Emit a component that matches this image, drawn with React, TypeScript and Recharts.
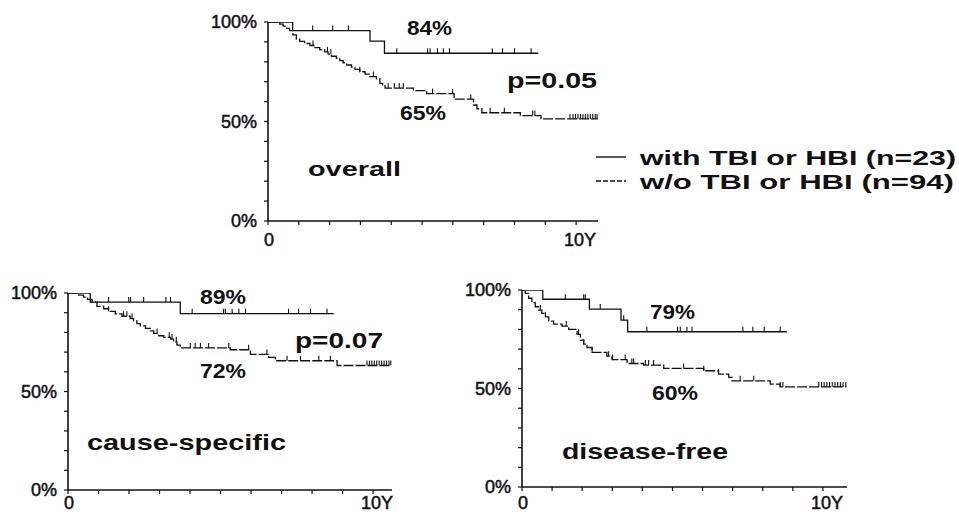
import React from "react";
import { ComposedChart, Line, Scatter, XAxis, YAxis, Legend } from "recharts";

const FONT = '"Liberation Sans", Arial, Helvetica, sans-serif';
const INK = "#111";

const seriesNames = ["with TBI or HBI (n=23)", "w/o TBI or HBI (n=94)"];

const yTicks = [0, 10, 20, 30, 40, 50, 60, 70, 80, 90, 100];
const yTickLabels: Record<number, string> = { 0: "0%", 50: "50%", 100: "100%" };
const xTicks = [0, 1, 2, 3, 4, 5, 6, 7, 8, 9, 10];
const xTickLabels: Record<number, string> = { 0: "0", 10: "10Y" };

// overall survival
const overallWithT = [0, 0.8, 3.31, 3.78, 8.77];
const overallWithV = [100, 95.7, 90.4, 84.3, 84.3];
const overallWithCens = [0.62, 0.7, 1.45, 2.1, 2.61, 4.18, 5.18, 5.26, 5.5, 5.69, 5.89, 7.28, 7.61, 8.0, 8.54];
const overallWoT = [
  0, 0.38, 0.49, 0.6, 0.7, 0.81, 0.92, 1.03, 1.19, 1.36, 1.52, 1.68, 1.84, 1.95, 2.06, 2.22, 2.33, 2.44,
  2.55, 2.71, 2.82, 2.98, 3.15, 3.31, 3.52, 3.63, 3.72, 3.8, 4.72, 5.15, 6.04, 6.67, 6.78, 6.94, 8.19, 8.86, 10.7,
];
const overallWoV = [
  100, 98.9, 97.9, 96.8, 95.7, 93.5, 91.4, 90.3, 89.2, 88.2, 87.1, 86.0, 85.0, 83.9, 82.8, 81.7, 80.6, 79.5,
  78.4, 77.3, 76.2, 75.0, 73.8, 72.6, 71.4, 69.2, 68.0, 66.8, 65.5, 64.0, 61.2, 58.3, 56.4, 54.4, 53.0, 51.3, 51.3,
];
const overallWoCens = [
  1.46, 1.93, 2.04, 2.98, 3.42, 3.9, 4.1, 4.26, 4.39, 5.34, 5.99, 6.58, 7.21, 7.67, 8.59, 8.66,
  9.8, 9.9, 9.98, 10.06, 10.14, 10.22, 10.3, 10.38, 10.46, 10.54, 10.62, 10.68,
];

// cause-specific survival
const causeWithT = [0, 0.73, 3.68, 8.71];
const causeWithV = [100, 95.4, 89.5, 89.5];
const causeWithCens = [0.57, 0.66, 1.33, 1.99, 2.05, 2.48, 3.21, 3.36, 4.07, 5.1, 5.16, 5.38, 5.6, 5.82, 7.23, 7.56, 7.95, 8.49];
const causeWoT = [
  0, 0.35, 0.51, 0.64, 0.79, 0.95, 1.17, 1.33, 1.55, 1.77, 2.04, 2.15, 2.26, 2.37, 2.54, 2.7, 2.81, 2.97,
  3.14, 3.36, 3.46, 3.57, 3.68, 5.32, 5.98, 6.58, 6.8, 8.82, 10.6,
];
const causeWoV = [
  100, 98.9, 97.9, 96.8, 95.4, 93.2, 92.0, 90.7, 89.4, 88.2, 87.0, 85.8, 84.5, 83.3, 82.0, 80.8, 79.5, 78.3,
  77.5, 76.6, 75.2, 73.5, 72.1, 71.2, 68.8, 67.3, 65.6, 63.2, 63.2,
];
const causeWoCens = [
  1.33, 1.82, 1.93, 2.1, 2.92, 3.32, 3.41, 3.55, 4.01, 4.17, 4.34, 4.61, 5.27, 5.92, 6.52, 7.18, 7.62, 8.22, 8.6,
  9.8, 9.88, 9.96, 10.04, 10.12, 10.2, 10.28, 10.36, 10.44, 10.52, 10.58,
];

// disease-free survival
const dfWithT = [0, 0.69, 2.24, 3.29, 3.51, 8.8];
const dfWithV = [100, 95.3, 90.3, 84.7, 78.8, 78.8];
const dfWithCens = [1.44, 2.05, 2.1, 2.6, 3.38, 4.15, 5.17, 5.26, 5.48, 5.65, 7.34, 7.67, 8.05, 8.58];
const dfWoT = [
  0, 0.11, 0.22, 0.33, 0.44, 0.55, 0.66, 0.78, 0.89, 1.05, 1.33, 1.55, 1.83, 1.94, 2.05, 2.16, 2.33, 2.82,
  2.99, 3.49, 4.04, 4.71, 6.04, 6.53, 6.87, 6.98, 8.25, 8.58, 10.78,
];
const dfWoV = [
  100, 98.3, 95.8, 93.6, 91.5, 89.8, 88.1, 86.4, 84.2, 82.7, 81.7, 80.0, 77.5, 74.6, 72.5, 70.8, 68.3, 66.4,
  64.7, 62.7, 61.9, 60.2, 59.0, 57.3, 55.6, 53.9, 52.2, 50.8, 50.8,
];
const dfWoCens = [
  0.61, 0.78, 1.47, 1.88, 2.05, 2.33, 2.88, 3.01, 3.43, 3.65, 3.71, 4.1, 4.21, 4.37, 5.37, 6.04, 6.53, 7.25, 7.7,
  8.58, 8.67, 9.86, 9.95, 10.04, 10.13, 10.22, 10.31, 10.4, 10.49, 10.58, 10.67, 10.76,
];

type Pt = { t: number; v: number };

const steps = (t: number[], v: number[]): Pt[] => t.map((x, i) => ({ t: x, v: v[i] }));

// censor marks sit on the curve value at that time
const marks = (times: number[], t: number[], v: number[]): Pt[] =>
  times.map((x) => {
    let k = 0;
    for (let i = 0; i < t.length; i++) if (t[i] <= x) k = i;
    return { t: x, v: v[k] };
  });

const Y_W = 60;
const X_H = 30;

const CensorTick = (props: any) => {
  const { cx, cy } = props;
  if (cx == null || cy == null) return <g />;
  return <line x1={cx} x2={cx} y1={cy} y2={cy - 5} stroke={INK} strokeWidth={1.1} />;
};

const YTick = (p: any) => {
  const label = yTickLabels[p.payload?.value];
  if (!label) return <g />;
  return (
    <text x={p.x} y={p.y} dy="0.36em" textAnchor="end" fontFamily={FONT} fontSize={18} fill={INK} stroke={INK} strokeWidth={0.5}>
      {label}
    </text>
  );
};

const makeXTick = (drop: number) => (p: any) => {
  const label = xTickLabels[p.payload?.value];
  if (!label) return <g />;
  return (
    <text
      x={p.x + (label === "10Y" ? 4 : 1)}
      y={p.y + drop}
      textAnchor="middle"
      fontFamily={FONT}
      fontSize={18}
      fill={INK}
      stroke={INK}
      strokeWidth={0.5}
    >
      {label}
    </text>
  );
};

const LegendBox = (props: any) => {
  const items: any[] = props.payload || [];
  return (
    <svg width={371} height={60}>
      {seriesNames.map((name, i) => {
        const hit = items.find((e: any) => e.value === name);
        const dashed = hit ? !!hit.payload?.strokeDasharray : i === 1;
        return (
          <g key={name}>
            <line
              x1={8}
              x2={38}
              y1={17 + i * 24}
              y2={17 + i * 24}
              stroke={INK}
              strokeWidth={1.4}
              strokeDasharray={dashed ? "5 2" : undefined}
            />
            <text
              x={52}
              y={25 + i * 24}
              fontFamily={FONT}
              fontWeight="bold"
              fontSize={20}
              fill={INK}
              textLength={i === 0 ? 316 : 314}
              lengthAdjust="spacingAndGlyphs"
            >
              {name}
            </text>
          </g>
        );
      })}
    </svg>
  );
};

interface PanelProps {
  box: { l: number; t: number; r: number; b: number };
  xMax: number;
  labelDrop: number;
  withLine: Pt[];
  woLine: Pt[];
  withMarks: Pt[];
  woMarks: Pt[];
  legend?: boolean;
}

const Panel = ({ box, xMax, labelDrop, withLine, woLine, withMarks, woMarks, legend }: PanelProps) => (
  <div style={{ position: "absolute", left: 0, top: 0 }}>
    <ComposedChart
      width={959}
      height={512}
      margin={{ top: box.t, left: box.l - Y_W, right: 959 - box.r, bottom: 512 - box.b - X_H }}
    >
      <XAxis
        type="number"
        dataKey="t"
        domain={[0, xMax]}
        ticks={xTicks}
        interval={0}
        allowDataOverflow
        height={X_H}
        axisLine={{ stroke: INK, strokeWidth: 1.6 }}
        tickLine={{ stroke: INK, strokeWidth: 1.2 }}
        tickSize={4}
        tickMargin={2}
        tick={makeXTick(labelDrop)}
      />
      <YAxis
        type="number"
        dataKey="v"
        domain={[0, 100]}
        ticks={yTicks}
        interval={0}
        allowDataOverflow
        width={Y_W}
        axisLine={{ stroke: INK, strokeWidth: 1.6 }}
        tickLine={{ stroke: INK, strokeWidth: 1.2 }}
        tickSize={4}
        tickMargin={7}
        tick={<YTick />}
      />
      <Line
        data={withLine}
        dataKey="v"
        name={seriesNames[0]}
        type="stepAfter"
        stroke={INK}
        strokeWidth={1.3}
        dot={false}
        activeDot={false}
        isAnimationActive={false}
      />
      <Line
        data={woLine}
        dataKey="v"
        name={seriesNames[1]}
        type="stepAfter"
        stroke={INK}
        strokeWidth={1.3}
        strokeDasharray="10 2"
        dot={false}
        activeDot={false}
        isAnimationActive={false}
      />
      <Scatter data={withMarks} dataKey="v" shape={<CensorTick />} legendType="none" isAnimationActive={false} />
      <Scatter data={woMarks} dataKey="v" shape={<CensorTick />} legendType="none" isAnimationActive={false} />
      {legend && (
        <Legend
          layout="horizontal"
          verticalAlign="middle"
          align="center"
          wrapperStyle={{ position: "absolute", left: 588, top: 140, width: 371, height: 60 }}
          content={<LegendBox />}
        />
      )}
    </ComposedChart>
  </div>
);

const Note = ({ x, y, w, size, children }: { x: number; y: number; w: number; size: number; children: string }) => (
  <text x={x} y={y} fontFamily={FONT} fontWeight="bold" fontSize={size} fill={INK} textLength={w} lengthAdjust="spacingAndGlyphs">
    {children}
  </text>
);

export default function App() {
  return (
    <div style={{ position: "absolute", left: 0, top: 0, width: 959, height: 512, background: "#fff", overflow: "hidden" }}>
      <Panel
        box={{ l: 268, t: 22, r: 598, b: 221 }}
        xMax={10.71}
        labelDrop={19}
        withLine={steps(overallWithT, overallWithV)}
        woLine={steps(overallWoT, overallWoV)}
        withMarks={marks(overallWithCens, overallWithT, overallWithV)}
        woMarks={marks(overallWoCens, overallWoT, overallWoV)}
        legend
      />
      <Panel
        box={{ l: 68, t: 293, r: 392, b: 490 }}
        xMax={10.62}
        labelDrop={13}
        withLine={steps(causeWithT, causeWithV)}
        woLine={steps(causeWoT, causeWoV)}
        withMarks={marks(causeWithCens, causeWithT, causeWithV)}
        woMarks={marks(causeWoCens, causeWoT, causeWoV)}
      />
      <Panel
        box={{ l: 522, t: 290, r: 847, b: 487 }}
        xMax={10.8}
        labelDrop={16}
        withLine={steps(dfWithT, dfWithV)}
        woLine={steps(dfWoT, dfWoV)}
        withMarks={marks(dfWithCens, dfWithT, dfWithV)}
        woMarks={marks(dfWoCens, dfWoT, dfWoV)}
      />
      <svg width={959} height={512} style={{ position: "absolute", left: 0, top: 0, pointerEvents: "none" }}>
        <Note x={407} y={35} w={45} size={20}>84%</Note>
        <Note x={507} y={88} w={90} size={22}>p=0.05</Note>
        <Note x={400} y={120} w={46} size={21}>65%</Note>
        <Note x={308} y={176} w={93} size={21}>overall</Note>
        <Note x={200} y={304} w={46} size={20}>89%</Note>
        <Note x={295} y={348} w={88} size={22}>p=0.07</Note>
        <Note x={200} y={378} w={46} size={21}>72%</Note>
        <Note x={87} y={450} w={199} size={22}>cause-specific</Note>
        <Note x={650} y={319} w={45} size={20}>79%</Note>
        <Note x={652} y={400} w={46} size={21}>60%</Note>
        <Note x={562} y={459} w={166} size={22}>disease-free</Note>
      </svg>
    </div>
  );
}
